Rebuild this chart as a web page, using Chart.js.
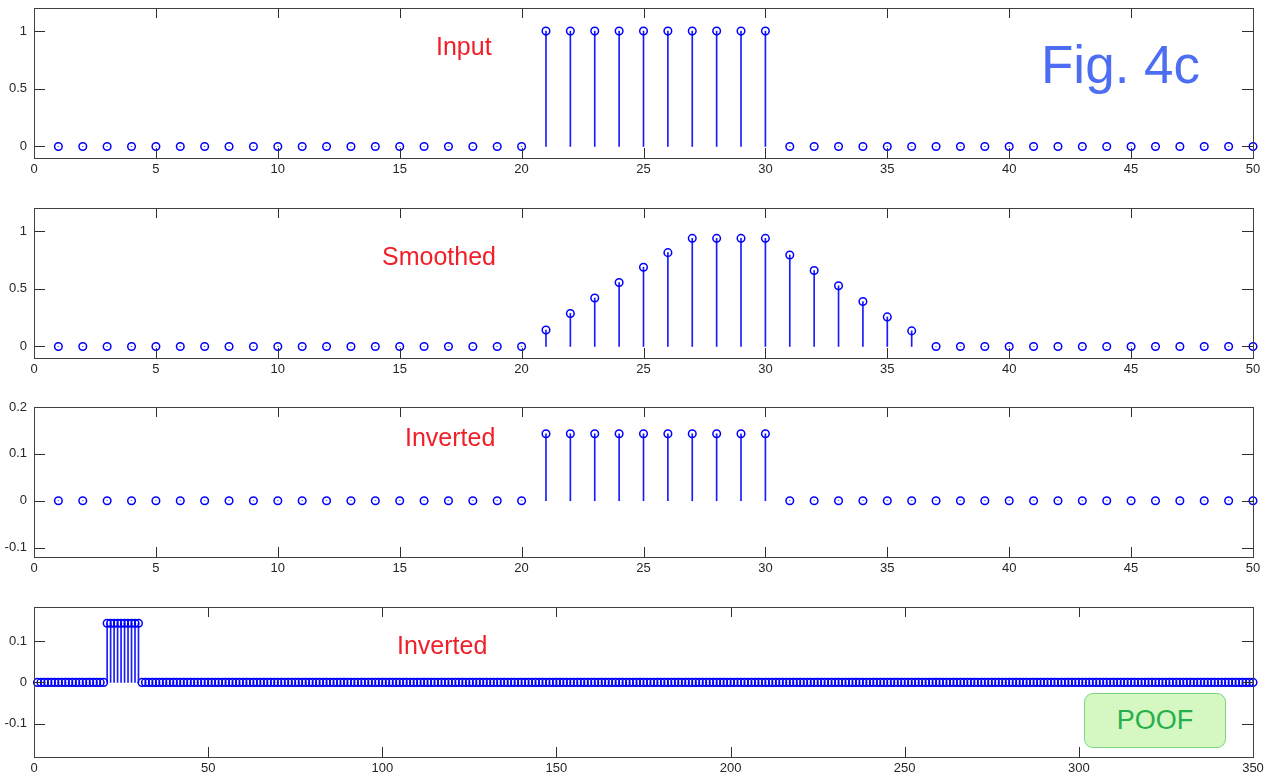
<!DOCTYPE html>
<html>
<head>
<meta charset="utf-8">
<script src="https://cdn.jsdelivr.net/npm/chart.js@4.4.1/dist/chart.umd.min.js"></script>
<style>
  body { margin: 0; background: #fff; width: 1278px; height: 780px; overflow: hidden; position: relative;
         font-family: "Liberation Sans", Arial, sans-serif; }
  .panel { position: absolute; left: 0; width: 1278px; height: 188px; }
  .lbl { position: absolute; color: #f0202a; font-size: 25px; line-height: 25px; white-space: nowrap; }
  .fig { position: absolute; left: 1041px; top: 38px; color: #4d6ef2; font-size: 53px; line-height: 53px; }
  .poof { position: absolute; left: 1084px; top: 693px; width: 142px; height: 55px; box-sizing: border-box;
          background: #d5f7c2; border: 1.5px solid #7dd67f; border-radius: 9px;
          color: #25b04c; font-size: 27px; line-height: 53px; text-align: center; }
</style>
</head>
<body>
<div class="panel" style="top:0px"><canvas id="c1" width="1278" height="188"></canvas></div>
<div class="panel" style="top:200px"><canvas id="c2" width="1278" height="188"></canvas></div>
<div class="panel" style="top:399px"><canvas id="c3" width="1278" height="188"></canvas></div>
<div class="panel" style="top:599px"><canvas id="c4" width="1278" height="188"></canvas></div>

<div class="lbl" style="left:436px;top:34px">Input</div>
<div class="lbl" style="left:382px;top:244px">Smoothed</div>
<div class="lbl" style="left:405px;top:425px">Inverted</div>
<div class="lbl" style="left:397px;top:633px">Inverted</div>
<div class="fig">Fig. 4c</div>
<div class="poof">POOF</div>

<script>
// sample values
const inputVals = [
  0,0,0,0,0,0,0,0,0,0, 0,0,0,0,0,0,0,0,0,0,
  1,1,1,1,1,1,1,1,1,1,
  0,0,0,0,0,0,0,0,0,0, 0,0,0,0,0,0,0,0,0,0
];
const smoothedVals = [
  0,0,0,0,0,0,0,0,0,0, 0,0,0,0,0,0,0,0,0,0,
  0.143,0.286,0.42,0.554,0.687,0.813,0.937,0.937,0.937,0.937,
  0.793,0.658,0.526,0.39,0.256,0.135,
  0,0,0,0,0,0,0,0,0,0,0,0,0,0
];
const invertedVals = [
  0,0,0,0,0,0,0,0,0,0, 0,0,0,0,0,0,0,0,0,0,
  0.1429,0.1429,0.1429,0.1429,0.1429,0.1429,0.1429,0.1429,0.1429,0.1429,
  0,0,0,0,0,0,0,0,0,0, 0,0,0,0,0,0,0,0,0,0
];
const invertedLongVals = [
  0,0,0,0,0,0,0,0,0,0,0,0,0,0,0,0,0,0,0,0,
  0.1429,0.1429,0.1429,0.1429,0.1429,0.1429,0.1429,0.1429,0.1429,0.1429,
  0,0,0,0,0,0,0,0,0,0,0,0,0,0,0,0,0,0,0,0,
  0,0,0,0,0,0,0,0,0,0,0,0,0,0,0,0,0,0,0,0,
  0,0,0,0,0,0,0,0,0,0,0,0,0,0,0,0,0,0,0,0,
  0,0,0,0,0,0,0,0,0,0,0,0,0,0,0,0,0,0,0,0,
  0,0,0,0,0,0,0,0,0,0,0,0,0,0,0,0,0,0,0,0,
  0,0,0,0,0,0,0,0,0,0,0,0,0,0,0,0,0,0,0,0,
  0,0,0,0,0,0,0,0,0,0,0,0,0,0,0,0,0,0,0,0,
  0,0,0,0,0,0,0,0,0,0,0,0,0,0,0,0,0,0,0,0,
  0,0,0,0,0,0,0,0,0,0,0,0,0,0,0,0,0,0,0,0,
  0,0,0,0,0,0,0,0,0,0,0,0,0,0,0,0,0,0,0,0,
  0,0,0,0,0,0,0,0,0,0,0,0,0,0,0,0,0,0,0,0,
  0,0,0,0,0,0,0,0,0,0,0,0,0,0,0,0,0,0,0,0,
  0,0,0,0,0,0,0,0,0,0,0,0,0,0,0,0,0,0,0,0,
  0,0,0,0,0,0,0,0,0,0,0,0,0,0,0,0,0,0,0,0,
  0,0,0,0,0,0,0,0,0,0,0,0,0,0,0,0,0,0,0,0,
  0,0,0,0,0,0,0,0,0,0,0,0,0,0,0,0,0,0,0,0
];

// tick labels
const xTicks50 = [0, 5, 10, 15, 20, 25, 30, 35, 40, 45, 50];
const xTicks350 = [0, 50, 100, 150, 200, 250, 300, 350];
const yTicksUnit = [0, 0.5, 1];
const yTicksSmall = [-0.1, 0, 0.1, 0.2];
const yTicksLong = [-0.1, 0, 0.1];

const STEM = '#1a1aff';
const MARK = '#0000ff';
const AXIS = '#2e2e2e';

// matlab-like box with inward ticks on all four sides
const frameTicks = {
  id: 'frameTicks',
  afterDatasetsDraw(chart) {
    const { ctx, chartArea: a, scales: { x, y } } = chart;
    ctx.save();
    ctx.strokeStyle = AXIS;
    ctx.lineWidth = 1;
    ctx.beginPath();
    x.ticks.forEach(t => {
      const p = Math.round(x.getPixelForValue(t.value)) + 0.5;
      ctx.moveTo(p, a.bottom); ctx.lineTo(p, a.bottom - 10);
      ctx.moveTo(p, a.top); ctx.lineTo(p, a.top + 10);
    });
    y.ticks.forEach(t => {
      const p = Math.round(y.getPixelForValue(t.value)) + 0.5;
      ctx.moveTo(a.left, p); ctx.lineTo(a.left + 11, p);
      ctx.moveTo(a.right, p); ctx.lineTo(a.right - 11, p);
    });
    ctx.stroke();
    ctx.strokeStyle = '#404040';
    ctx.strokeRect(Math.round(a.left) + 0.5, Math.round(a.top) + 0.5,
                   Math.round(a.right - a.left), Math.round(a.bottom - a.top));
    ctx.restore();
  }
};

function stemChart(id, vals, xMax, xTicks, yMin, yMax, yTicks) {
  const pts = vals.map((v, i) => ({ x: i + 1, y: v }));
  const tickFont = { family: '"Liberation Sans", Arial, sans-serif', size: 13 };
  return new Chart(document.getElementById(id), {
    type: 'bar',
    data: {
      datasets: [
        { type: 'bar', data: pts, backgroundColor: STEM, borderWidth: 0, barThickness: 1, order: 2 },
        { type: 'scatter', data: pts, borderColor: MARK, backgroundColor: 'rgba(0,0,0,0)',
          pointRadius: 3.8, pointBorderWidth: 1.5, pointHoverRadius: 3.8, clip: false, order: 1 }
      ]
    },
    options: {
      responsive: false,
      animation: false,
      devicePixelRatio: 1,
      events: [],
      layout: { padding: { left: 0, right: 25, top: 8, bottom: 0 } },
      plugins: { legend: { display: false }, tooltip: { enabled: false } },
      scales: {
        x: {
          type: 'linear', min: 0, max: xMax, offset: false,
          grid: { display: false, offset: false, drawTicks: false },
          border: { display: false },
          afterBuildTicks: s => { s.ticks = xTicks.map(v => ({ value: v })); },
          afterFit: s => { s.height = 30; },
          ticks: { color: '#262626', font: tickFont, padding: 4, maxRotation: 0,
                   callback: v => String(v) }
        },
        y: {
          min: yMin, max: yMax,
          grid: { display: false, drawTicks: false },
          border: { display: false },
          afterBuildTicks: s => { s.ticks = yTicks.map(v => ({ value: v })); },
          afterFit: s => { s.width = 34; s.paddingTop = 0; s.paddingBottom = 0; },
          ticks: { color: '#262626', font: tickFont, padding: 7,
                   callback: v => String(Math.round(v * 100) / 100) }
        }
      }
    },
    plugins: [frameTicks]
  });
}

stemChart('c1', inputVals, 50, xTicks50, -0.1, 1.2, yTicksUnit);
stemChart('c2', smoothedVals, 50, xTicks50, -0.1, 1.2, yTicksUnit);
stemChart('c3', invertedVals, 50, xTicks50, -0.12, 0.2, yTicksSmall);
stemChart('c4', invertedLongVals, 350, xTicks350, -0.18, 0.182, yTicksLong);
</script>
</body>
</html>
